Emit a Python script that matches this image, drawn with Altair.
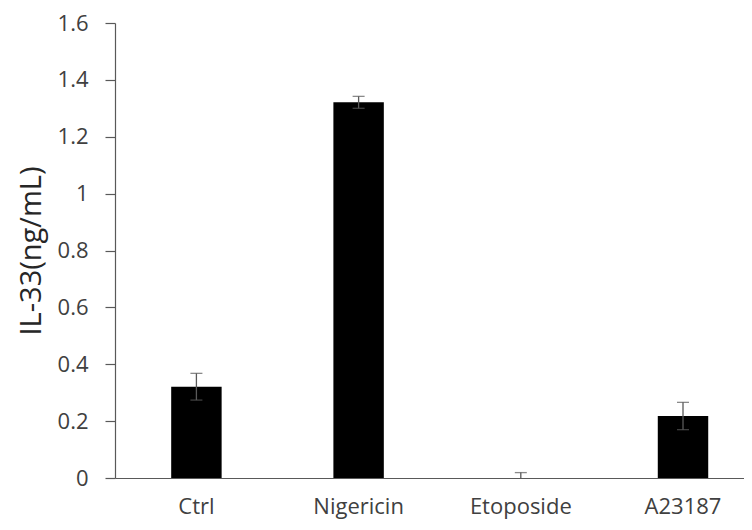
import altair as alt
import pandas as pd

categories = ["Ctrl", "Nigericin", "Etoposide", "A23187"]
means = [0.321, 1.321, 0.0, 0.218]
errors = [0.047, 0.021, 0.019, 0.048]
y_ticks = [0, 0.2, 0.4, 0.6, 0.8, 1.0, 1.2, 1.4, 1.6]

df = pd.DataFrame({"cat": categories, "mean": means, "err": errors})
df["lo"] = df["mean"] - df["err"]
df["hi"] = df["mean"] + df["err"]

FONT = "Open Sans"
AX = "#595959"

x = alt.X(
    "cat:N", sort=categories, title=None,
    scale=alt.Scale(paddingInner=0.689, paddingOuter=0.2835, align=0.611),
    axis=alt.Axis(labelAngle=0, ticks=False, tickSize=0, labelPadding=18,
                  labelFontSize=22, labelColor="#404040", labelFont=FONT,
                  labelBaseline="top", domainColor=AX, domainWidth=1.2),
)
yscale = alt.Scale(domain=[0, 1.6], nice=False, zero=True)
yaxis = alt.Axis(values=y_ticks, format=".1~f", tickSize=10, tickColor=AX,
                 tickWidth=1.2, domainColor=AX, domainWidth=1.2, grid=False,
                 labelPadding=17, labelFontSize=22, labelColor="#404040",
                 labelFont=FONT, titleFont=FONT, titleFontSize=29,
                 titleFontWeight="normal", titleColor="#262626",
                 titleX=-84, titleY=227.5, titleAngle=270,
                 titleBaseline="middle", titleAlign="center")
TITLE = "IL-33(ng/mL)"

bars = alt.Chart(df).mark_bar(color="black").encode(
    x=x, y=alt.Y("mean:Q", scale=yscale, axis=yaxis, title=TITLE)
)
rules = alt.Chart(df).mark_rule(color=AX, strokeWidth=1.3, clip=True).encode(
    x=x, y=alt.Y("lo:Q", scale=yscale, axis=yaxis, title=TITLE), y2="hi:Q"
)
caps_hi = alt.Chart(df).mark_tick(color=AX, thickness=1.3, size=12, clip=True).encode(
    x=x, y=alt.Y("hi:Q", scale=yscale, axis=yaxis, title=TITLE)
)
caps_lo = alt.Chart(df).mark_tick(color=AX, thickness=1.3, size=12, clip=True).encode(
    x=x, y=alt.Y("lo:Q", scale=yscale, axis=yaxis, title=TITLE)
)

chart = alt.layer(bars, rules, caps_hi, caps_lo).properties(
    width=629, height=455,
    autosize=alt.AutoSizeParams(type="none"),
    padding={"left": 107, "top": 15, "right": 0, "bottom": 44},
).configure_view(stroke=None)

chart.save("out.html", embed_options={"renderer": "svg", "actions": False})
